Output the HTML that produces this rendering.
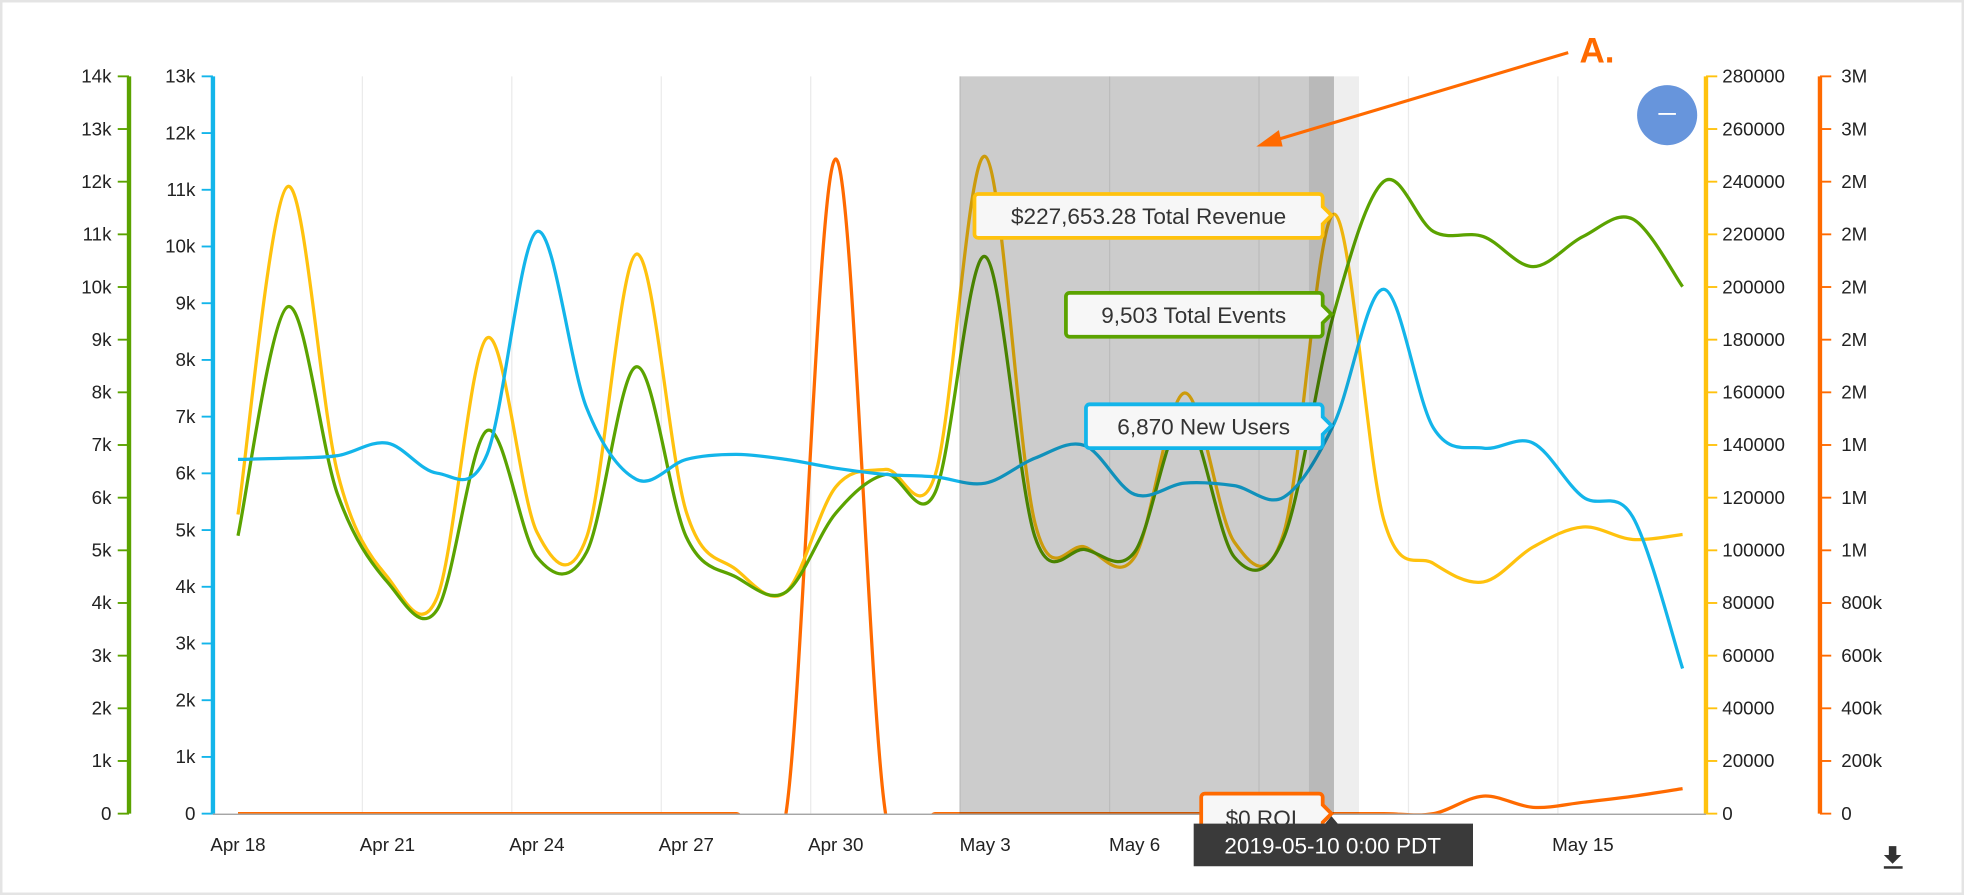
<!DOCTYPE html>
<html><head><meta charset="utf-8">
<style>
html,body{margin:0;padding:0;background:#fff;}
body{width:1964px;height:895px;overflow:hidden;}
svg{display:block;font-family:"Liberation Sans",sans-serif;}
</style></head>
<body>
<svg id="chart" width="1964" height="895" viewBox="0 0 1568 715" preserveAspectRatio="none" xmlns="http://www.w3.org/2000/svg">
<rect x="1" y="1" width="1566" height="713" fill="#fff" stroke="#e4e4e4" stroke-width="2"/>
<g id="grid"></g>
<g id="axes"></g>
<g id="lines"></g>
<rect x="766" y="61" width="279" height="589" fill="#cccccc" style="mix-blend-mode:multiply"/>
<rect x="1045" y="61" width="20" height="589" fill="#b9b9b9" style="mix-blend-mode:multiply"/>
<rect x="1065" y="61" width="20" height="589" fill="#eeeeee" style="mix-blend-mode:multiply"/>
<line x1="170" y1="650.5" x2="1362" y2="650.5" stroke="#999" stroke-width="1"/>
<g id="xlabels"></g>

<g>
<path d="M781,155 H1053 a3,3 0 0 1 3,3 V165 L1063,172 L1056,179 V187 a3,3 0 0 1 -3,3 H781 a3,3 0 0 1 -3,-3 V158 a3,3 0 0 1 3,-3Z" fill="#f7f7f7" stroke="#ffc20e" stroke-width="3"/>
<text x="917" y="179" font-size="18" fill="#333" text-anchor="middle">$227,653.28 Total Revenue</text></g>
<g>
<path d="M854,234 H1053 a3,3 0 0 1 3,3 V244 L1063,251 L1056,258 V266 a3,3 0 0 1 -3,3 H854 a3,3 0 0 1 -3,-3 V237 a3,3 0 0 1 3,-3Z" fill="#f7f7f7" stroke="#5ba300" stroke-width="3"/>
<text x="953" y="258" font-size="18" fill="#333" text-anchor="middle">9,503 Total Events</text></g>
<g>
<path d="M870,323 H1053 a3,3 0 0 1 3,3 V333 L1063,340 L1056,347 V355 a3,3 0 0 1 -3,3 H870 a3,3 0 0 1 -3,-3 V326 a3,3 0 0 1 3,-3Z" fill="#f7f7f7" stroke="#13b5ea" stroke-width="3"/>
<text x="961" y="347" font-size="18" fill="#333" text-anchor="middle">6,870 New Users</text></g>
<g>
<path d="M962,634 H1053 a3,3 0 0 1 3,3 V643 L1063,650 L1056,657 V670 H959 V637 a3,3 0 0 1 3,-3Z" fill="#f7f7f7" stroke="#ff6a00" stroke-width="3"/>
<text x="1007" y="660" font-size="18" fill="#333" text-anchor="middle">$0 ROI</text></g>
<g>
<path d="M953,658 H1058 L1063,652 L1068,658 H1176 V692 H953Z" fill="#3a3a3a"/>
<text x="1064" y="682" font-size="18" fill="#fff" text-anchor="middle">2019-05-10 0:00 PDT</text></g>

<g>
<line x1="1252" y1="42" x2="1018" y2="112" stroke="#ff6a00" stroke-width="2.5"/>
<polygon points="1003,117 1021,104 1024,117" fill="#ff6a00"/>
<text x="1261" y="50" font-size="28" font-weight="bold" fill="#ff6a00">A.</text></g>
<g>
<ellipse cx="1331" cy="92" rx="24" ry="24" fill="#6795dc"/>
<line x1="1324" y1="91" x2="1338" y2="91" stroke="#fff" stroke-width="1.5"/></g>
<g>
<path d="M1508,676 H1514 V683 H1518 L1511,690 L1504,683 H1508Z" fill="#333"/>
<rect x="1504" y="692" width="15" height="2" fill="#333"/></g>
</svg>
<script>
const categories=["Apr 18","Apr 19","Apr 20","Apr 21","Apr 22","Apr 23","Apr 24","Apr 25","Apr 26","Apr 27","Apr 28","Apr 29","Apr 30","May 1","May 2","May 3","May 4","May 5","May 6","May 7","May 8","May 9","May 10","May 11","May 12","May 13","May 14","May 15","May 16","May 17"];
const totalEvents=[5277,9626,6061,4397,3874,7273,4873,4968,8486,5253,4492,4207,5705,6441,6109,10577,5253,5015,4968,7511,4873,5253,9503,12003,11053,10958,10387,10958,11290,10007];
const newUsers=[6246,6268,6312,6533,6003,6334,10263,7151,5893,6246,6334,6246,6091,5981,5937,5827,6268,6489,5628,5827,5783,5584,6870,9247,6798,6445,6533,5584,5231,2560];
const totalRevenue=[113620,238175,129310,89850,82240,180650,106960,105060,212500,114570,92700,84150,124080,130740,128830,249590,110290,101260,97460,159730,103160,106960,227653,111700,95000,88000,101260,108870,104110,106010];
const roi=[0,0,0,0,0,0,0,0,0,0,0,0,2486000,0,0,0,0,0,0,0,0,0,0,0,0,66500,24000,43000,66000,95000];
const greenTicks=["0","1k","2k","3k","4k","5k","6k","7k","8k","9k","10k","11k","12k","13k","14k"];
const blueTicks=["0","1k","2k","3k","4k","5k","6k","7k","8k","9k","10k","11k","12k","13k"];
const yellowTicks=["0","20000","40000","60000","80000","100000","120000","140000","160000","180000","200000","220000","240000","260000","280000"];
const orangeTicks=["0","200k","400k","600k","800k","1M","1M","1M","2M","2M","2M","2M","2M","3M","3M"];
const xTickLabels=["Apr 18","Apr 21","Apr 24","Apr 27","Apr 30","May 3","May 6","","","May 15"];

const NS="http://www.w3.org/2000/svg";
const TOP=61,BOT=650,X0=190,DAY=39.77,GX0=170;
const xPos=i=>X0+DAY*i;
const yScale=max=>v=>BOT-(v/max)*(BOT-TOP);
const yG=yScale(14000),yB=yScale(13000),yY=yScale(280000),yO=yScale(2800000);
function mk(tag,attrs,parent){const e=document.createElementNS(NS,tag);for(const k in attrs)e.setAttribute(k,attrs[k]);parent.appendChild(e);return e;}
const grid=document.getElementById('grid'),axes=document.getElementById('axes'),lines=document.getElementById('lines'),xl=document.getElementById('xlabels');

for(let k=1;k<=9;k++){const x=GX0+DAY*3*k;
 const g=mk('line',{x1:x,y1:TOP,x2:x,y2:BOT,stroke:'#ebebeb','stroke-width':1},grid);
 
 }
xTickLabels.forEach((t,k)=>{if(!t)return;const x=GX0+DAY*3*k+20;
 const e=mk('text',{x:x,y:680,'font-size':15,fill:'#222','text-anchor':'middle'},xl);e.textContent=t;
 
 });

function axis(ax,ticks,color,side,labelX,name){
 const a=mk('line',{x1:ax,y1:TOP,x2:ax,y2:BOT,stroke:color,'stroke-width':3.5},axes);
 
 
 const n=ticks.length-1;
 ticks.forEach((t,i)=>{const y=BOT-(BOT-TOP)*i/n;
  mk('line',{x1:ax,y1:y,x2:ax+side*9,y2:y,stroke:color,'stroke-width':1.5},axes);
  const e=mk('text',{x:labelX,y:y+5,'font-size':15,fill:'#222','text-anchor':side<0?'end':'start'},axes);e.textContent=t;
  
  });
}
axis(103,greenTicks,'#5ba300',-1,89,'events-axis');
axis(170,blueTicks,'#13b5ea',-1,156,'users-axis');
axis(1362,yellowTicks,'#ffc20e',1,1375,'revenue-axis');
axis(1453,orangeTicks,'#ff6a00',1,1470,'roi-axis');

function pathD(vals,ys){const p=vals.map((v,i)=>[xPos(i),ys(v)]);let d='M'+p[0][0]+','+p[0][1];
 for(let i=0;i<p.length-1;i++){const p0=p[i-1]||p[i],p1=p[i],p2=p[i+1],p3=p[i+2]||p2;
  const c1=[p1[0]+(p2[0]-p0[0])/6,p1[1]+(p2[1]-p0[1])/6],c2=[p2[0]-(p3[0]-p1[0])/6,p2[1]-(p3[1]-p1[1])/6];
  d+=` C${c1[0]},${c1[1]} ${c2[0]},${c2[1]} ${p2[0]},${p2[1]}`;}return d;}
const clip=mk('clipPath',{id:'plotclip'},mk('defs',{},lines));
mk('rect',{x:170,y:TOP-20,width:1192,height:BOT-TOP+20},clip);
function series(vals,ys,color,name){const e=mk('path',{d:pathD(vals,ys),fill:'none',stroke:color,'stroke-width':2.6,'clip-path':'url(#plotclip)'},lines);
 
 }
series(roi,yO,'#ff6a00','roi-line');
series(totalRevenue,yY,'#ffc20e','total-revenue-line');
series(totalEvents,yG,'#5ba300','total-events-line');
series(newUsers,yB,'#13b5ea','new-users-line');
</script>
</body></html>
